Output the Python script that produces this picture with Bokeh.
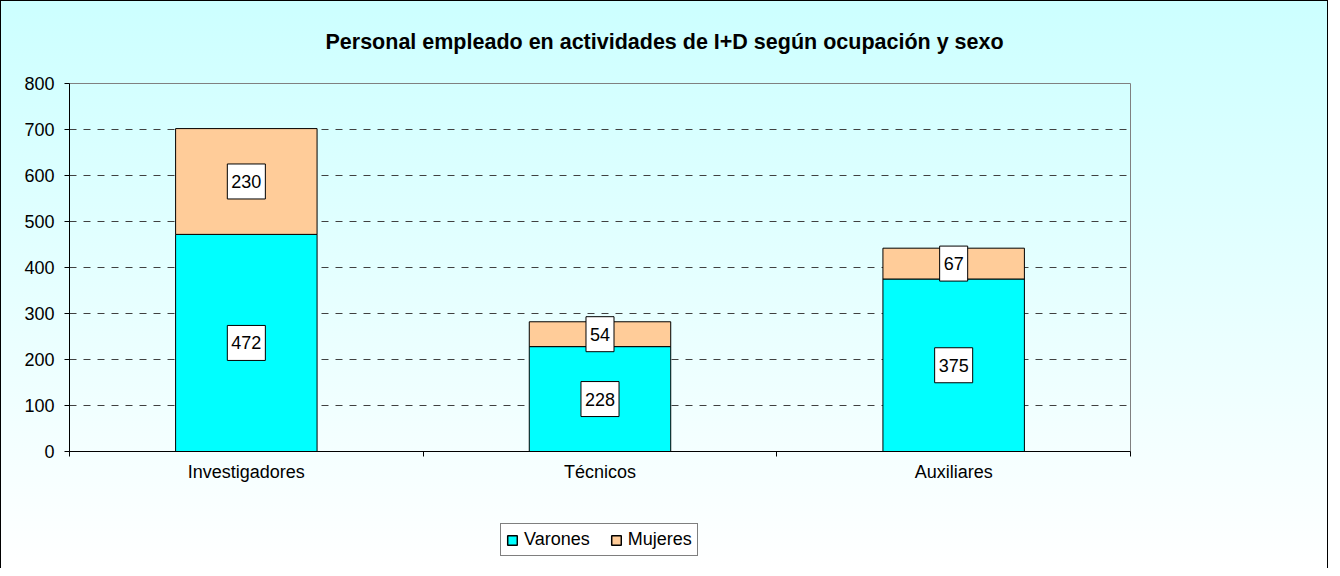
from bokeh.plotting import figure
from bokeh.layouts import column
from bokeh.models import FixedTicker, ColumnDataSource, Legend, LegendItem, Range1d
from bokeh.embed import file_html
from bokeh.resources import INLINE
from bokeh.core.properties import value

# ---- data ----
categories = ["Investigadores", "Técnicos", "Auxiliares"]
varones = [472, 228, 375]
mujeres = [230, 54, 67]
series = ["Varones", "Mujeres"]
colors = ["#00FFFF", "#FFCC99"]
y_ticks = [0, 100, 200, 300, 400, 500, 600, 700, 800]
title_text = "Personal empleado en actividades de I+D según ocupación y sexo"

FONT = "Liberation Sans"

xs = [i + 0.5 for i in range(len(categories))]
src = ColumnDataSource(dict(
    x=xs,
    Varones=varones,
    Mujeres=mujeres,
    v_y=[v / 2 for v in varones],
    m_y=[v + m / 2 for v, m in zip(varones, mujeres)],
    v_lab=[str(v) for v in varones],
    m_lab=[str(m) for m in mujeres],
))

W = 1328
H1 = 500
H2 = 68

p = figure(width=W, height=H1, output_backend="svg", toolbar_location=None,
           x_range=Range1d(0, len(categories)), y_range=Range1d(0, 800),
           min_border_left=69, min_border_right=198, min_border_top=83, min_border_bottom=49)

p.border_fill_color = None
p.background_fill_color = None
p.outline_line_color = "#808080"
p.outline_line_width = 1

# title
p.title.text = title_text
p.title.text_font = FONT
p.title.text_font_size = "21.5px"
p.title.text_font_style = "bold"
p.title.text_color = "black"
p.title.align = "left"
p.title.offset = 256
p.title.vertical_align = "top"
p.title.standoff = 56

# x axis
p.xaxis.ticker = FixedTicker(ticks=xs, minor_ticks=list(range(len(categories) + 1)))
p.xaxis.major_label_overrides = {x: c for x, c in zip(xs, categories)}
p.xaxis.major_tick_out = 0
p.xaxis.major_tick_in = 0
p.xaxis.minor_tick_out = 5
p.xaxis.minor_tick_in = 0
p.xaxis.minor_tick_line_color = "black"
p.xaxis.axis_line_color = "black"
p.xaxis.major_label_standoff = 5
p.xaxis.major_label_text_font = FONT
p.xaxis.major_label_text_font_size = "18px"
p.xaxis.major_label_text_color = "black"

# y axis
p.yaxis.ticker = FixedTicker(ticks=y_ticks, minor_ticks=[])
p.yaxis.major_tick_out = 5
p.yaxis.major_tick_in = 0
p.yaxis.minor_tick_out = 0
p.yaxis.minor_tick_in = 0
p.yaxis.major_tick_line_color = "black"
p.yaxis.axis_line_color = "black"
p.yaxis.major_label_standoff = 10
p.yaxis.major_label_text_font = FONT
p.yaxis.major_label_text_font_size = "18px"
p.yaxis.major_label_text_color = "black"

# grid
p.xgrid.visible = False
p.ygrid.ticker = FixedTicker(ticks=y_ticks)
p.ygrid.grid_line_color = "#404040"
p.ygrid.grid_line_dash = "7 7"
p.ygrid.grid_line_width = 1

# bars
p.vbar_stack(series, x="x", width=0.4, color=colors, line_color="black",
             line_width=1, source=src)

# data labels
for ycol, tcol in (("v_y", "v_lab"), ("m_y", "m_lab")):
    p.text(x="x", y=ycol, text=tcol, source=src,
           text_align="center", text_baseline="middle",
           text_font=value(FONT), text_font_size="18px", text_color="black",
           background_fill_color="white", border_line_color="black",
           border_line_width=1, padding=(4, 11))

# ---- legend strip (same data, bars hidden; only legend shown) ----
p2 = figure(width=W, height=H2, output_backend="svg", toolbar_location=None,
            x_range=p.x_range, y_range=Range1d(5000, 5001),
            x_axis_type=None, y_axis_type=None,
            min_border_left=0, min_border_right=0, min_border_top=0, min_border_bottom=0)
p2.border_fill_color = None
p2.background_fill_color = None
p2.outline_line_color = None
p2.grid.visible = False
rs = p2.vbar_stack(series, x="x", width=0.4, color=colors, line_color="black",
                   line_width=1.5, source=src)
for r in rs:
    r.visible = False

legend = Legend(items=[LegendItem(label=s, renderers=[r]) for s, r in zip(series, rs)],
                orientation="horizontal", location=(431, 12))
legend.click_policy = "none"
legend.label_text_font = FONT
legend.label_text_font_size = "18px"
legend.label_text_color = "black"
legend.glyph_width = 12
legend.glyph_height = 12
legend.label_standoff = 6
legend.spacing = 20
legend.padding = 5
legend.margin = 0
legend.border_line_color = "black"
legend.border_line_width = 1
legend.background_fill_color = "white"
legend.background_fill_alpha = 1
p2.add_layout(legend, "center")

layout = column(p, p2, spacing=0)
layout.styles = {
    "background": "linear-gradient(to bottom, #CCFFFF 0%, #FFFFFF 100%)",
    "box-shadow": "inset 1px 1px 0 #000000, inset -1px 0 0 #000000",
}

open("out.html", "w").write(file_html(layout, INLINE))
